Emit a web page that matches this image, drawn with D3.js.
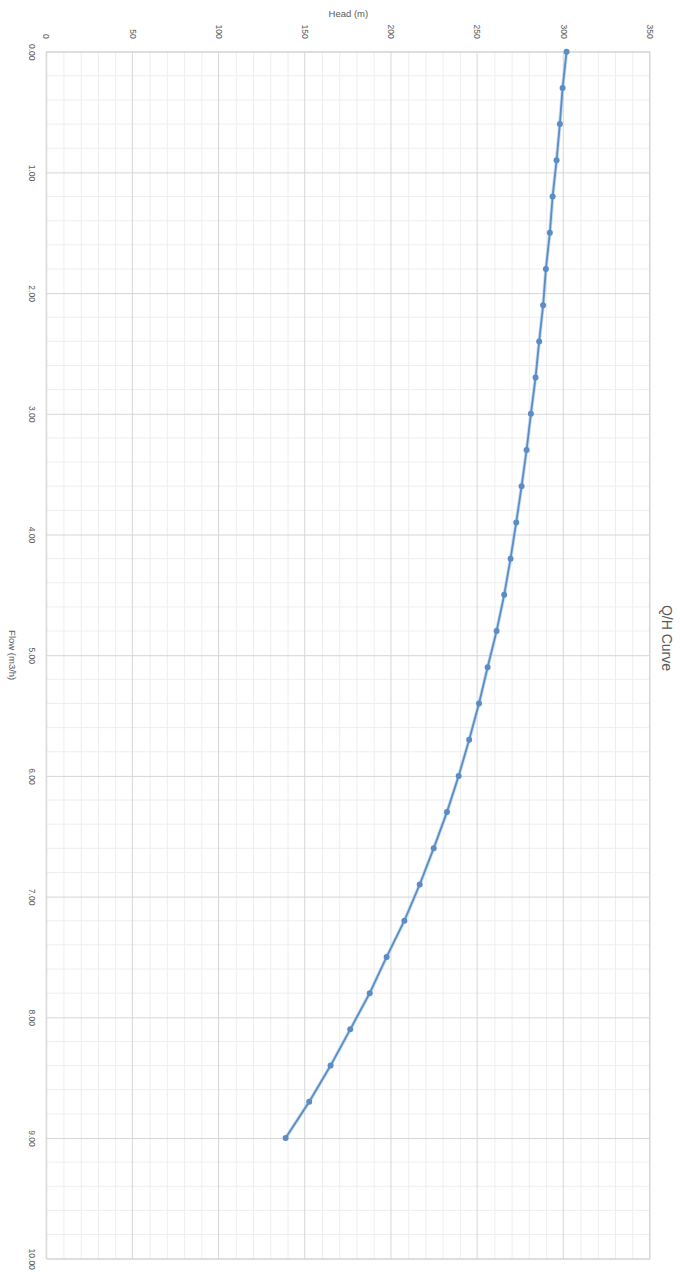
<!DOCTYPE html>
<html>
<head>
<meta charset="utf-8">
<script src="https://cdn.jsdelivr.net/npm/d3@7"></script>
<style>
	body { margin: 0; background: #fff; }
	svg { display: block; font-family: "Liberation Sans", Arial, sans-serif; }
</style>
</head>
<body>
<div id="graph"></div>
<script>
// Q/H curve data (flow in m3/h, head in m)
const flow = [0.0, 0.3, 0.6, 0.9, 1.2, 1.5, 1.8, 2.1, 2.4, 2.7, 3.0, 3.3, 3.6, 3.9, 4.2, 4.5,
	4.8, 5.1, 5.4, 5.7, 6.0, 6.3, 6.6, 6.9, 7.2, 7.5, 7.8, 8.1, 8.4, 8.7, 9.0];
const head = [301.6, 299.3, 297.7, 295.8, 293.5, 291.9, 289.6, 288.0, 285.7, 283.6, 280.9,
	278.4, 275.5, 272.4, 269.1, 265.4, 261.0, 255.8, 250.8, 245.1, 239.0, 232.2, 224.5,
	216.4, 207.5, 197.2, 187.4, 176.1, 164.7, 152.3, 138.6];
const flowTicks = [0, 1, 2, 3, 4, 5, 6, 7, 8, 9, 10];
const headTicks = [0, 50, 100, 150, 200, 250, 300, 350];
const chartTitle = "Q/H Curve";
const xLabel = "Flow (m3/h)";
const yLabel = "Head (m)";

function QHChart() {
	// the whole chart is drawn landscape then turned 90deg clockwise
	const W = 680;
	const H = 1276;
	const width = 1276; // landscape width
	const height = 680;

	const xScale = d3.scaleLinear([0, 10], [51.7, 1258.7]);
	const yScale = d3.scaleLinear([0, 350], [633.3, 30]);

	const svg = d3
		.select("#graph")
		.append("svg")
		.attr("width", W)
		.attr("height", H)
		.attr("viewBox", [0, 0, W, H]);

	const g = svg.append("g").attr("transform", `translate(${W},0) rotate(90)`);

	const x0 = xScale.range()[0], x1 = xScale.range()[1];
	const y0 = yScale.range()[0], y1 = yScale.range()[1];

	// minor grid
	const minorX = d3.range(0, 10.001, 0.2).filter((v) => Math.abs(v - Math.round(v)) > 1e-6);
	const minorY = d3.range(0, 350.001, 10).filter((v) => v % 50 !== 0);
	g.append("g")
		.attr("stroke", "#eeeeee")
		.attr("stroke-width", 1)
		.call((s) =>
			s.selectAll(".mx").data(minorX).join("line")
				.attr("x1", (d) => xScale(d)).attr("x2", (d) => xScale(d))
				.attr("y1", y0).attr("y2", y1)
		)
		.call((s) =>
			s.selectAll(".my").data(minorY).join("line")
				.attr("y1", (d) => yScale(d)).attr("y2", (d) => yScale(d))
				.attr("x1", x0).attr("x2", x1)
		);

	// major grid
	const xAxis = d3.axisBottom(xScale).tickValues(flowTicks).tickSize(-(y0 - y1)).tickFormat(d3.format(".2f"));
	const yAxis = d3.axisLeft(yScale).tickValues(headTicks).tickSize(-(x1 - x0)).tickFormat(d3.format("d"));

	g.append("g")
		.attr("transform", `translate(0,${y0})`)
		.call(xAxis)
		.call((s) => s.select(".domain").remove())
		.call((s) => s.selectAll(".tick line").attr("stroke", "#d6d6d6"))
		.call((s) =>
			s.selectAll(".tick text")
				.attr("fill", "#595959")
				.attr("font-size", 8.5)
				.attr("dy", 0)
				.attr("y", 18)
		);

	g.append("g")
		.attr("transform", `translate(${x0},0)`)
		.call(yAxis)
		.call((s) => s.select(".domain").remove())
		.call((s) => s.selectAll(".tick line").attr("stroke", "#d6d6d6"))
		.call((s) =>
			s.selectAll(".tick text")
				.attr("fill", "#595959")
				.attr("font-size", 8.5)
				.attr("x", -13)
		);

	// plot border
	g.append("rect")
		.attr("x", x0).attr("y", y1)
		.attr("width", x1 - x0).attr("height", y0 - y1)
		.attr("fill", "none")
		.attr("stroke", "#d6d6d6");

	// curve
	const line = d3.line().x((i) => xScale(flow[i])).y((i) => yScale(head[i]));
	const I = d3.range(flow.length);

	g.append("path")
		.datum(I)
		.attr("fill", "none")
		.attr("stroke", "#9fc5ea")
		.attr("stroke-width", 3.5)
		.attr("stroke-opacity", 0.6)
		.attr("d", line);
	g.append("path")
		.datum(I)
		.attr("fill", "none")
		.attr("stroke", "#5b8cc4")
		.attr("stroke-width", 1.8)
		.attr("d", line);

	g.append("g")
		.attr("fill", "#5b8cc4")
		.selectAll("circle")
		.data(I)
		.join("circle")
		.attr("cx", (i) => xScale(flow[i]))
		.attr("cy", (i) => yScale(head[i]))
		.attr("r", 3);

	// titles
	g.append("text")
		.attr("x", 638)
		.attr("y", 18)
		.attr("text-anchor", "middle")
		.attr("font-size", 14)
		.attr("fill", "#595959")
		.text(chartTitle);

	g.append("text")
		.attr("x", (x0 + x1) / 2)
		.attr("y", 671)
		.attr("text-anchor", "middle")
		.attr("font-size", 9.5)
		.attr("fill", "#595959")
		.text(xLabel);

	g.append("text")
		.attr("transform", `translate(17,${(y0 + y1) / 2}) rotate(-90)`)
		.attr("text-anchor", "middle")
		.attr("font-size", 9.5)
		.attr("fill", "#595959")
		.text(yLabel);
}

QHChart();
</script>
</body>
</html>
